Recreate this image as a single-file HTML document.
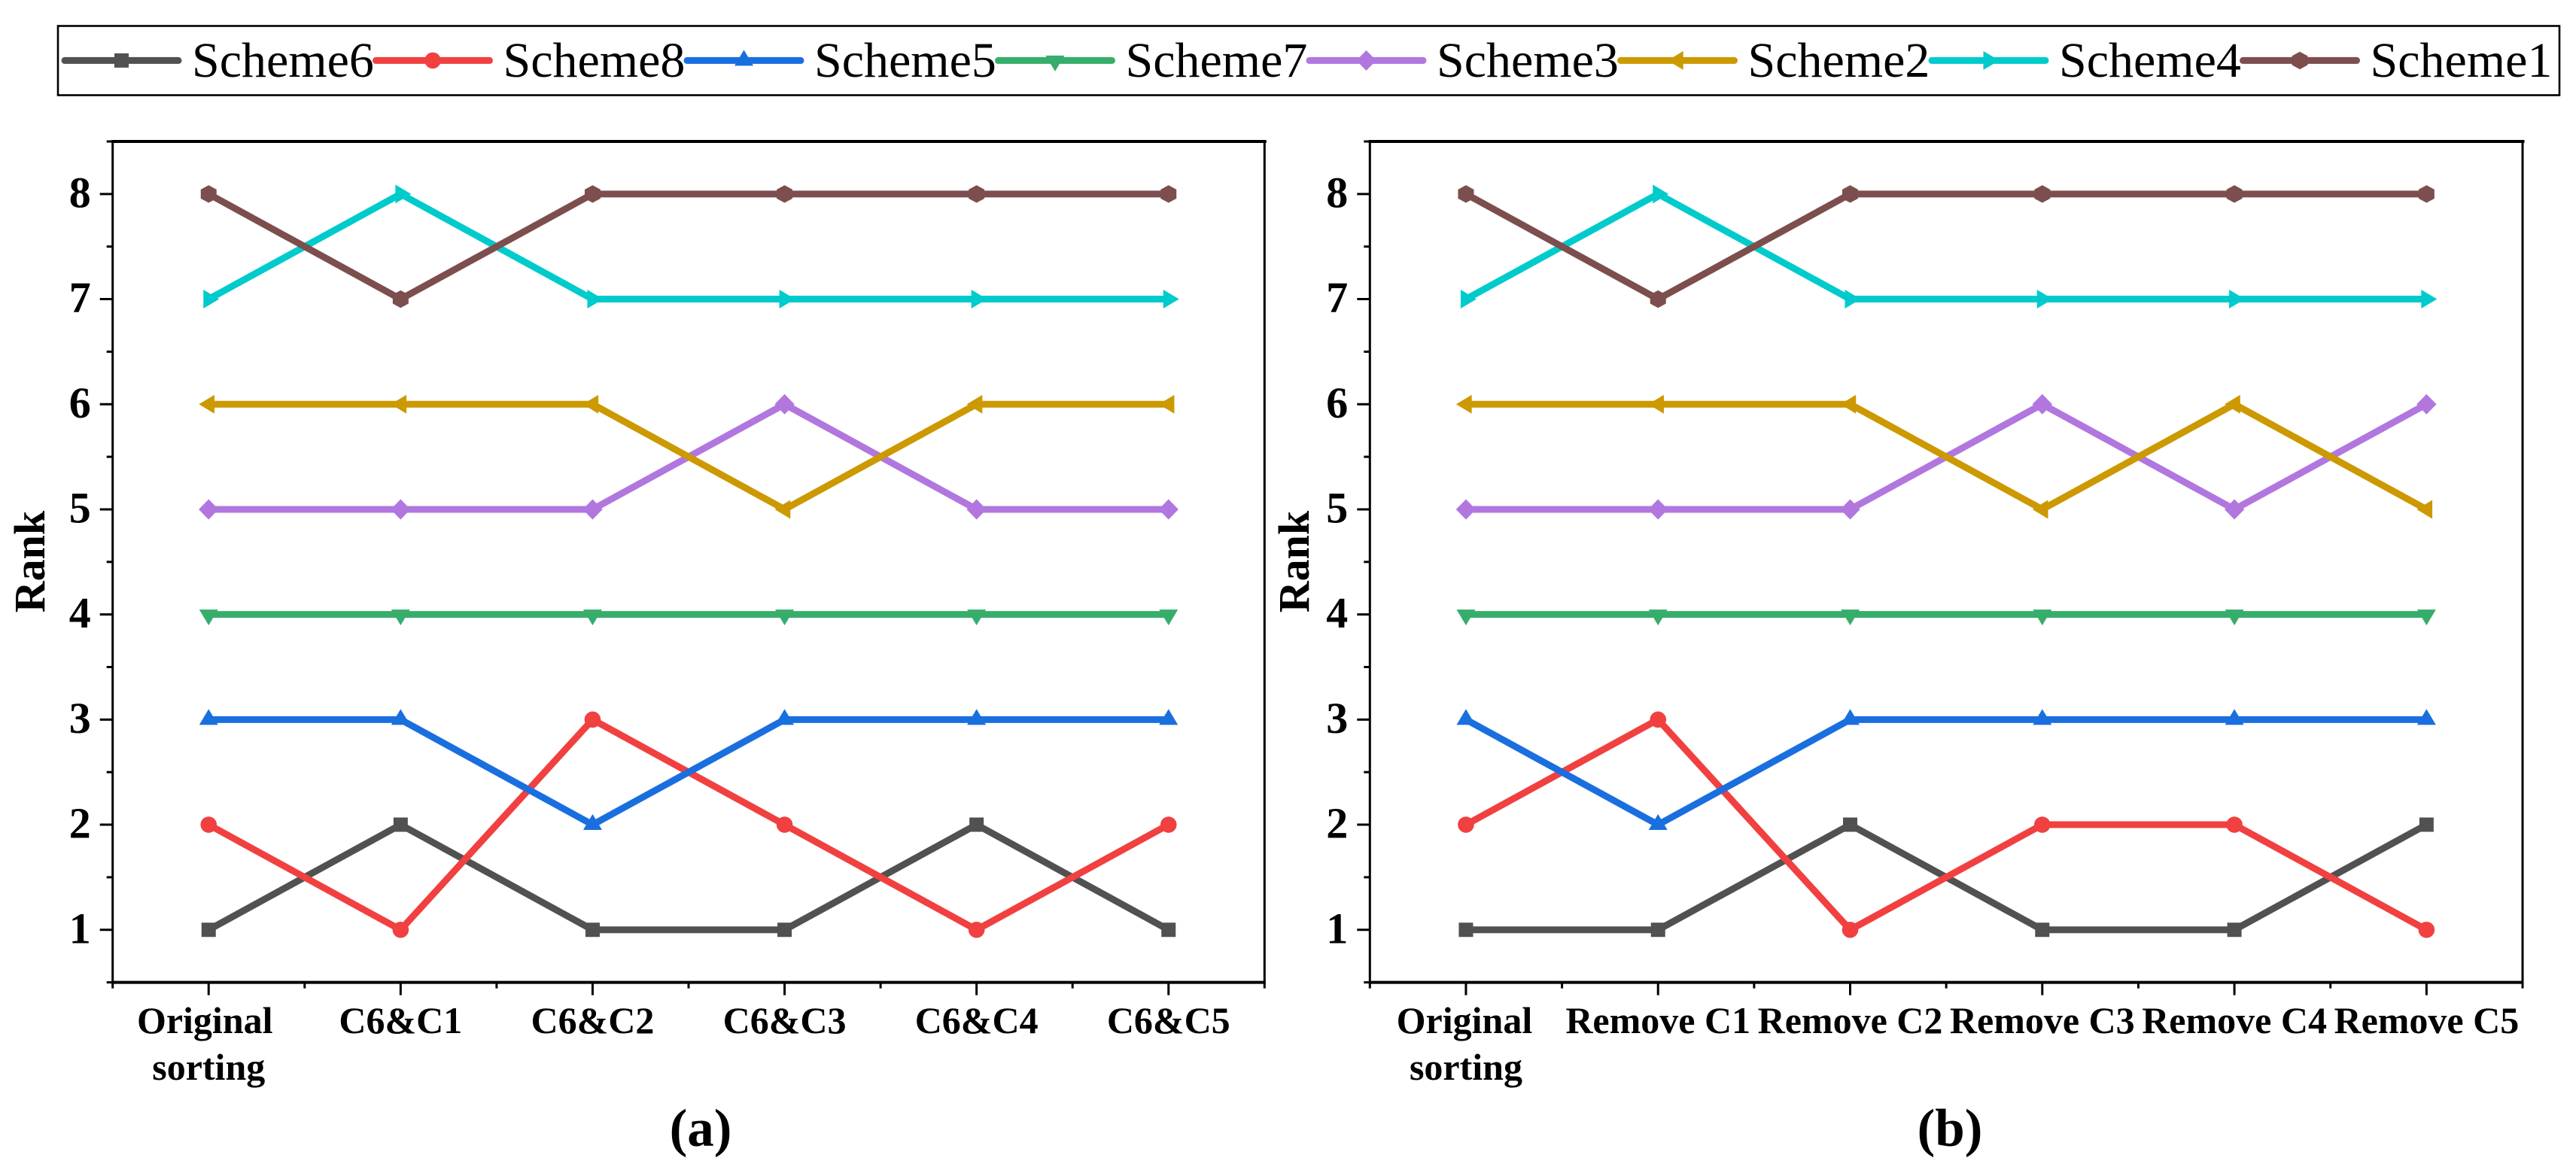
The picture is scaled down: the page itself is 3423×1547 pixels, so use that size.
<!DOCTYPE html>
<html lang="en">
<head>
<meta charset="utf-8">
<title>Scheme rank sensitivity charts</title>
<style>
  html, body { margin: 0; padding: 0; background: #ffffff; }
  body { width: 3423px; height: 1547px; overflow: hidden; }
  svg { display: block; font-family: "Liberation Serif", serif; }
</style>
</head>
<body>
<svg id="figure" xmlns="http://www.w3.org/2000/svg" width="3423" height="1547" viewBox="0 0 3423 1547">
  <rect x="0" y="0" width="3423" height="1547" fill="#ffffff"/>
  <rect x="77" y="34.5" width="3324" height="92" fill="none" stroke="#000" stroke-width="2.6"/>
  <g id="legend"></g>
  <g id="panel-a"></g>
  <g id="panel-b"></g>
  <text x="931" y="1523" font-size="71" font-weight="bold" text-anchor="middle">(a)</text>
  <text x="2591" y="1523" font-size="71" font-weight="bold" text-anchor="middle">(b)</text>
</svg>
<script>
// Chart data
const seriesNames = ['Scheme6', 'Scheme8', 'Scheme5', 'Scheme7', 'Scheme3', 'Scheme2', 'Scheme4', 'Scheme1'];
const categoriesA = ['Original\nsorting', 'C6&C1', 'C6&C2', 'C6&C3', 'C6&C4', 'C6&C5'];
const categoriesB = ['Original\nsorting', 'Remove C1', 'Remove C2', 'Remove C3', 'Remove C4', 'Remove C5'];
const yTickLabels = [1, 2, 3, 4, 5, 6, 7, 8];

const scheme6A = [1, 2, 1, 1, 2, 1];
const scheme8A = [2, 1, 3, 2, 1, 2];
const scheme5A = [3, 3, 2, 3, 3, 3];
const scheme7A = [4, 4, 4, 4, 4, 4];
const scheme3A = [5, 5, 5, 6, 5, 5];
const scheme2A = [6, 6, 6, 5, 6, 6];
const scheme4A = [7, 8, 7, 7, 7, 7];
const scheme1A = [8, 7, 8, 8, 8, 8];

const scheme6B = [1, 1, 2, 1, 1, 2];
const scheme8B = [2, 3, 1, 2, 2, 1];
const scheme5B = [3, 2, 3, 3, 3, 3];
const scheme7B = [4, 4, 4, 4, 4, 4];
const scheme3B = [5, 5, 5, 6, 5, 6];
const scheme2B = [6, 6, 6, 5, 6, 5];
const scheme4B = [7, 8, 7, 7, 7, 7];
const scheme1B = [8, 7, 8, 8, 8, 8];

const valuesA = [scheme6A, scheme8A, scheme5A, scheme7A, scheme3A, scheme2A, scheme4A, scheme1A];
const valuesB = [scheme6B, scheme8B, scheme5B, scheme7B, scheme3B, scheme2B, scheme4B, scheme1B];

// Styling
const seriesColors = ['#515151', '#F14040', '#1A6FDF', '#37AD6B', '#B177DE', '#CC9900', '#00CBCC', '#7D4E4E'];
const seriesMarkers = ['square', 'circle', 'up', 'down', 'diamond', 'left', 'right', 'hexagon'];

const NS = 'http://www.w3.org/2000/svg';
const LINE_W = 9;

function make(tag, parent, attrs) {
  const el = document.createElementNS(NS, tag);
  for (const k in attrs) el.setAttribute(k, attrs[k]);
  parent.appendChild(el);
  return el;
}

function drawMarker(parent, kind, cx, cy, color) {
  const shapes = {
    square:  [[-9.5, -9.5], [9.5, -9.5], [9.5, 9.5], [-9.5, 9.5]],
    up:      [[0, -14], [12.5, 7], [-12.5, 7]],
    down:    [[-12.5, -6.5], [12.5, -6.5], [0, 14.5]],
    left:    [[-13, 0], [7.7, -12.5], [7.7, 12.5]],
    right:   [[14, 0], [-7, -12.5], [-7, 12.5]],
    diamond: [[0, -13.5], [13.2, 0], [0, 13.5], [-13.2, 0]],
    hexagon: [[0, -11.7], [10.5, -6], [10.5, 6], [0, 11.7], [-10.5, 6], [-10.5, -6]]
  };
  if (kind === 'circle') {
    return make('circle', parent, { cx: cx, cy: cy, r: 10.8, fill: color });
  }
  const pts = shapes[kind].map(p => (cx + p[0]) + ',' + (cy + p[1])).join(' ');
  return make('polygon', parent, { points: pts, fill: color });
}

function drawPanel(root, prefix, x0, x1, categories, values, rankBaselineX, firstLabelShift) {
  const yTop = 188, yBottom = 1305.6;
  const x = i => x0 + (i + 0.5) * (x1 - x0) / categories.length;
  const y = v => yBottom - (v - 0.5) * (yBottom - yTop) / 8;

  // Frame
  const frameTop = make('line', root, { x1: x0 - 1.5, x2: x1 + 2.5, y1: yTop, y2: yTop, stroke: '#000', 'stroke-width': 4 });
  
  
  const frameRight = make('line', root, { x1: x1, x2: x1, y1: yTop, y2: yBottom, stroke: '#000', 'stroke-width': 3 });
  
  
  const axisY = make('line', root, { x1: x0, x2: x0, y1: yTop, y2: yBottom, stroke: '#000', 'stroke-width': 3 });
  
  
  const axisX = make('line', root, { x1: x0 - 1.5, x2: x1 + 1.5, y1: yBottom, y2: yBottom, stroke: '#000', 'stroke-width': 4 });
  
  

  // Y ticks and labels
  yTickLabels.forEach(v => {
    const tick = make('line', root, { x1: x0 - 17, x2: x0, y1: y(v), y2: y(v), stroke: '#000', 'stroke-width': 3 });
    
    
    const label = make('text', root, { x: x0 - 29, y: y(v) + 17.5, 'font-size': 58, 'font-weight': 'bold', 'text-anchor': 'end' });
    
    
    label.textContent = v;
  });
  for (let v = 0.5; v <= 8.5; v += 1) {
    const minor = make('line', root, { x1: x0 - 8, x2: x0, y1: y(v), y2: y(v), stroke: '#000', 'stroke-width': 3 });
    
    
  }

  // X ticks and labels
  categories.forEach((cat, i) => {
    const tick = make('line', root, { x1: x(i), x2: x(i), y1: yBottom, y2: yBottom + 17, stroke: '#000', 'stroke-width': 3 });
    
    
    const label = make('text', root, { 'font-size': 50, 'font-weight': 'bold', 'text-anchor': 'middle' });
    
    
    cat.split('\n').forEach((part, n) => {
      const shift = (i === 0 && n === 0) ? firstLabelShift : 0;
      const span = make('tspan', label, { x: x(i) + shift, y: 1373 + n * 62 });
      span.textContent = part;
    });
  });
  for (let i = -0.5; i <= categories.length - 0.5; i += 1) {
    const minor = make('line', root, { x1: x(i), x2: x(i), y1: yBottom, y2: yBottom + 8, stroke: '#000', 'stroke-width': 3 });
    
    
  }

  // Axis title
  const title = make('text', root, {
    transform: 'translate(' + rankBaselineX + ',746.5) rotate(-90)',
    'font-size': 58, 'font-weight': 'bold', 'text-anchor': 'middle'
  });
  
  
  title.textContent = 'Rank';

  // Series
  values.forEach((vals, s) => {
    const group = make('g', root, {});
    
    
    const pts = vals.map((v, i) => x(i) + ',' + y(v)).join(' ');
    const line = make('polyline', group, {
      points: pts, fill: 'none', stroke: seriesColors[s],
      'stroke-width': LINE_W, 'stroke-linejoin': 'round', 'stroke-linecap': 'butt'
    });
    
    
    vals.forEach((v, i) => {
      const mark = drawMarker(group, seriesMarkers[s], x(i), y(v), seriesColors[s]);
      
      
    });
  });
}

function drawLegend(root) {
  seriesNames.forEach((name, s) => {
    const lx = 86 + s * 413.5;
    const group = make('g', root, {});
    
    
    const sample = make('line', group, {
      x1: lx, x2: lx + 151, y1: 80.4, y2: 80.4, stroke: seriesColors[s],
      'stroke-width': 9, 'stroke-linecap': 'round'
    });
    
    
    const mark = drawMarker(group, seriesMarkers[s], lx + 75.5, 80.4, seriesColors[s]);
    
    
    const label = make('text', group, { x: lx + 169, y: 102, 'font-size': 66 });
    
    
    label.textContent = name;
  });
}

drawLegend(document.getElementById('legend'));
drawPanel(document.getElementById('panel-a'), 'panel-a', 149.7, 1680.3, categoriesA, valuesA, 59, -5);
drawPanel(document.getElementById('panel-b'), 'panel-b', 1820.3, 3352, categoriesB, valuesB, 1739, -2);
</script>
</body>
</html>
